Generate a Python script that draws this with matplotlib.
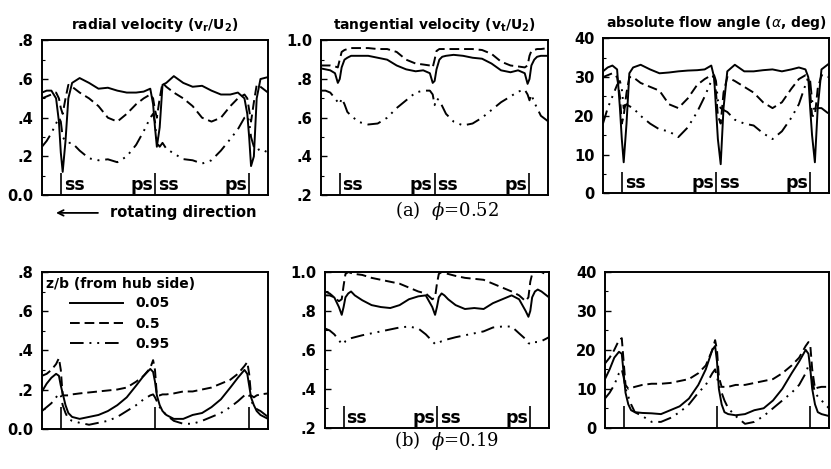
import matplotlib.pyplot as plt

# pitch-wise position in blade pitches (shared by all curves)
pitch = [0.0, 0.05, 0.1, 0.15, 0.18, 0.2, 0.22, 0.25, 0.28, 0.32,
         0.4, 0.5, 0.6, 0.7, 0.8, 0.9, 1.0, 1.08, 1.15, 1.18,
         1.2, 1.22, 1.25, 1.28, 1.32, 1.4, 1.5, 1.6, 1.7, 1.8,
         1.9, 2.0, 2.08, 2.15, 2.18, 2.2, 2.22, 2.25, 2.28, 2.32, 2.4]
blades = [0.2, 1.2, 2.2]
zb_labels = ['0.05', '0.5', '0.95']

# (a) phi = 0.52
rad_a_005 = [0.53, 0.54, 0.54, 0.50, 0.38, 0.22, 0.12, 0.28, 0.50, 0.58,
             0.605, 0.58, 0.55, 0.555, 0.54, 0.53, 0.53, 0.535, 0.55, 0.47,
             0.35, 0.25, 0.35, 0.57, 0.58, 0.615, 0.58, 0.56, 0.565, 0.54,
             0.52, 0.52, 0.53, 0.50, 0.42, 0.30, 0.15, 0.20, 0.50, 0.60, 0.61]
rad_a_05 = [0.50, 0.51, 0.52, 0.53, 0.50, 0.45, 0.42, 0.50, 0.57, 0.56,
            0.53, 0.50, 0.46, 0.40, 0.38, 0.42, 0.47, 0.50, 0.52, 0.50,
            0.44, 0.40, 0.50, 0.58, 0.56, 0.53, 0.50, 0.46, 0.40, 0.38,
            0.40, 0.46, 0.50, 0.52, 0.50, 0.44, 0.38, 0.48, 0.57, 0.56, 0.53]
rad_a_095 = [0.25, 0.28, 0.32, 0.37, 0.40, 0.38, 0.30, 0.28, 0.27, 0.27,
             0.23, 0.19, 0.18, 0.185, 0.17, 0.20, 0.26, 0.33, 0.40, 0.42,
             0.38, 0.27, 0.25, 0.27, 0.24, 0.215, 0.186, 0.18, 0.163, 0.18,
             0.23, 0.29, 0.34, 0.40, 0.41, 0.38, 0.30, 0.25, 0.23, 0.24, 0.22]

tan_a_005 = [0.855, 0.85, 0.845, 0.83, 0.78, 0.80, 0.86, 0.90, 0.91, 0.92,
             0.92, 0.92, 0.91, 0.90, 0.87, 0.85, 0.84, 0.845, 0.83, 0.78,
             0.79, 0.85, 0.90, 0.915, 0.92, 0.925, 0.92, 0.91, 0.905, 0.88,
             0.845, 0.835, 0.845, 0.83, 0.775, 0.80, 0.87, 0.90, 0.915, 0.92, 0.92]
tan_a_05 = [0.87, 0.87, 0.87, 0.865, 0.86, 0.90, 0.94, 0.95, 0.955, 0.96,
            0.96, 0.96, 0.955, 0.955, 0.94, 0.90, 0.88, 0.875, 0.87, 0.86,
            0.90, 0.945, 0.955, 0.955, 0.955, 0.955, 0.955, 0.955, 0.95, 0.93,
            0.89, 0.87, 0.865, 0.86, 0.87, 0.92, 0.945, 0.95, 0.955, 0.955, 0.96]
tan_a_095 = [0.74, 0.74, 0.73, 0.70, 0.68, 0.67, 0.70, 0.67, 0.63, 0.61,
             0.578, 0.565, 0.57, 0.60, 0.65, 0.69, 0.73, 0.74, 0.74, 0.72,
             0.665, 0.70, 0.69, 0.66, 0.62, 0.58, 0.56, 0.57, 0.60, 0.64,
             0.68, 0.71, 0.735, 0.745, 0.72, 0.69, 0.72, 0.68, 0.65, 0.61, 0.58]

ang_a_005 = [31.5, 32.5, 33, 32, 22, 14, 8, 18, 31, 32.5,
             33.2, 32, 31, 31.2, 31.5, 31.7, 31.8, 32, 33, 30,
             22, 14, 7.5, 22, 31.5, 33.2, 31.5, 31.5, 31.8, 32,
             31.5, 32, 32.5, 32, 30, 22, 15, 8, 22, 32, 33.5]
ang_a_05 = [30, 30.5, 31, 30, 25, 18, 20, 26, 30, 30,
            28.5, 27.5, 26.5, 23, 22, 24.5, 28, 29.5, 30.5, 30,
            26, 20, 18, 26, 30, 29, 27.5, 26, 23.5, 22,
            23.5, 27, 29.5, 30.5, 30, 26, 20, 20, 27, 30.5, 30]
ang_a_095 = [18, 22, 25, 28, 29, 27, 22, 23, 22.5, 22,
             20, 18, 16.5, 16, 14.5, 17, 21, 25, 29, 30.5,
             29, 24, 22, 21.5, 21, 19, 18, 17.5, 15.5, 14,
             16, 19.5, 23, 28, 30, 29, 24, 21, 22, 22, 20.5]

# (b) phi = 0.19
rad_b_005 = [0.19, 0.23, 0.26, 0.28, 0.27, 0.22, 0.18, 0.12, 0.08, 0.06,
             0.05, 0.06, 0.07, 0.09, 0.12, 0.16, 0.22, 0.27, 0.305, 0.29,
             0.24, 0.17, 0.12, 0.09, 0.07, 0.05, 0.05, 0.07, 0.08, 0.11,
             0.15, 0.21, 0.26, 0.30, 0.28, 0.22, 0.16, 0.12, 0.09, 0.07, 0.05]
rad_b_05 = [0.27, 0.28, 0.30, 0.33, 0.36, 0.30, 0.17, 0.17, 0.17, 0.175,
            0.18, 0.185, 0.19, 0.195, 0.20, 0.21, 0.24, 0.27, 0.31, 0.35,
            0.30, 0.17, 0.17, 0.175, 0.175, 0.18, 0.19, 0.19, 0.20, 0.21,
            0.23, 0.25, 0.28, 0.32, 0.34, 0.28, 0.17, 0.16, 0.17, 0.175, 0.18]
rad_b_095 = [0.09, 0.11, 0.13, 0.16, 0.18, 0.17, 0.12, 0.08, 0.05, 0.04,
             0.03, 0.02, 0.03, 0.04, 0.06, 0.09, 0.12, 0.15, 0.17, 0.175,
             0.16, 0.14, 0.11, 0.09, 0.07, 0.04, 0.025, 0.025, 0.04, 0.06,
             0.08, 0.11, 0.14, 0.17, 0.18, 0.17, 0.14, 0.12, 0.10, 0.09, 0.06]

tan_b_005 = [0.88, 0.88, 0.87, 0.82, 0.78, 0.82, 0.87, 0.89, 0.90, 0.88,
             0.855, 0.83, 0.82, 0.815, 0.83, 0.86, 0.875, 0.88, 0.82, 0.78,
             0.82, 0.87, 0.89, 0.88, 0.86, 0.83, 0.81, 0.815, 0.81, 0.84,
             0.86, 0.88, 0.86, 0.80, 0.77, 0.80, 0.87, 0.90, 0.91, 0.90, 0.87]
tan_b_05 = [0.90, 0.89, 0.87, 0.85, 0.86, 0.93, 0.99, 1.0, 0.995, 0.99,
            0.985, 0.97, 0.96, 0.95, 0.94, 0.92, 0.90, 0.89, 0.86, 0.87,
            0.94, 0.99, 1.0, 0.995, 0.99, 0.98, 0.97, 0.965, 0.96, 0.94,
            0.92, 0.90, 0.88, 0.85, 0.87, 0.95, 0.99, 1.0, 1.0, 1.0, 0.98]
tan_b_095 = [0.71, 0.70, 0.68, 0.65, 0.63, 0.63, 0.645, 0.655, 0.66, 0.665,
             0.675, 0.685, 0.695, 0.705, 0.715, 0.72, 0.71, 0.68, 0.645, 0.63,
             0.63, 0.635, 0.645, 0.65, 0.655, 0.665, 0.675, 0.685, 0.695, 0.715,
             0.72, 0.72, 0.685, 0.655, 0.635, 0.63, 0.63, 0.64, 0.64, 0.645, 0.665]

ang_b_005 = [12.5, 15, 18, 19.5, 19, 14, 9, 6, 4.5, 4,
             3.8, 3.7, 3.5, 4.5, 5.5, 7.5, 11, 15, 20, 21,
             17, 10, 6, 4, 3.5, 3.2, 3.5, 4.5, 5, 7,
             10, 14, 17, 20, 19, 15, 10, 6, 4, 3.5, 3]
ang_b_05 = [16.5, 18, 20, 22.5, 23, 17, 11, 10, 10.2, 10.5,
            11, 11.3, 11.3, 11.5, 12, 12.5, 14, 16, 20, 22.5,
            20, 13, 10.5, 10.5, 10.5, 11, 11, 11.5, 12, 12.5,
            14, 16, 18, 21, 22, 21, 15, 10, 10.3, 10.5, 10.5]
ang_b_095 = [7.5, 9, 11, 14, 15, 13, 10, 8, 6, 4,
             3, 1.5, 1.5, 2.5, 4, 6, 9, 11, 14, 15,
             13, 11, 9, 7, 5, 3, 1, 1.5, 3, 5,
             7, 9, 11, 14, 16, 15, 12, 9, 8, 7, 5]

styles = ['-', (0, (5, 2.5)), (0, (7, 3, 1, 3, 1, 3))]


def draw_panel(ax, curves, ylim, ticks, ticklabels, title=None, side_labels=True):
    for y, ls, lab in zip(curves, styles, zb_labels):
        ax.plot(pitch, y, color='black', lw=1.4, linestyle=ls, label=lab)
    lo, hi = ylim
    span = hi - lo
    ax.set_xlim(0, 2.4)
    ax.set_ylim(lo, hi)
    # blade positions
    ax.vlines(blades, lo, lo + 0.14 * span, color='black', lw=1.2)
    if side_labels:
        kw = dict(fontsize=12.5, fontweight='bold', va='bottom')
        ax.text(blades[0] + 0.03, lo + 0.005 * span, 'ss', ha='left', **kw)
        ax.text(blades[1] - 0.02, lo + 0.005 * span, 'ps', ha='right', **kw)
        ax.text(blades[1] + 0.03, lo + 0.005 * span, 'ss', ha='left', **kw)
        ax.text(blades[2] - 0.02, lo + 0.005 * span, 'ps', ha='right', **kw)
    ax.set_xticks([])
    ax.set_yticks(ticks)
    ax.set_yticklabels(ticklabels, fontweight='bold', fontsize=10.5)
    ax.set_yticks([(a + b) / 2 for a, b in zip(ticks[:-1], ticks[1:])], minor=True)
    ax.tick_params(axis='y', which='major', direction='in', length=4, width=1, pad=6)
    ax.tick_params(axis='y', which='minor', direction='in', length=2, width=0.8)
    for sp in ax.spines.values():
        sp.set_linewidth(1.4)
    if title:
        ax.set_title(title, fontsize=10, fontweight='bold', pad=8)


fig = plt.figure(figsize=(8.31, 4.69), dpi=100)

rad_ticks = [0.0, 0.2, 0.4, 0.6, 0.8]
rad_labels = ['0.0', '.2', '.4', '.6', '.8']
tan_ticks = [0.2, 0.4, 0.6, 0.8, 1.0]
tan_labels = ['.2', '.4', '.6', '.8', '1.0']
ang_ticks = [0, 10, 20, 30, 40]
ang_labels = ['0', '10', '20', '30', '40']

ax1 = fig.add_axes([0.0505, 0.584, 0.272, 0.330])
ax2 = fig.add_axes([0.386, 0.584, 0.274, 0.330])
ax3 = fig.add_axes([0.7256, 0.588, 0.272, 0.330])
ax4 = fig.add_axes([0.0505, 0.086, 0.272, 0.334])
ax5 = fig.add_axes([0.391, 0.088, 0.2696, 0.332])
ax6 = fig.add_axes([0.728, 0.088, 0.2696, 0.332])

draw_panel(ax1, [rad_a_005, rad_a_05, rad_a_095], (0, 0.8), rad_ticks, rad_labels,
           r'radial velocity (v$_\mathregular{r}$/U$_\mathregular{2}$)')
draw_panel(ax2, [tan_a_005, tan_a_05, tan_a_095], (0.2, 1.0), tan_ticks, tan_labels,
           r'tangential velocity (v$_\mathregular{t}$/U$_\mathregular{2}$)')
draw_panel(ax3, [ang_a_005, ang_a_05, ang_a_095], (0, 40), ang_ticks, ang_labels,
           r'absolute flow angle ($\alpha$, deg)')
draw_panel(ax4, [rad_b_005, rad_b_05, rad_b_095], (0, 0.8), rad_ticks, rad_labels,
           side_labels=False)
draw_panel(ax5, [tan_b_005, tan_b_05, tan_b_095], (0.2, 1.0), tan_ticks, tan_labels)
draw_panel(ax6, [ang_b_005, ang_b_05, ang_b_095], (0, 40), ang_ticks, ang_labels,
           side_labels=False)

# legend for spanwise positions
ax4.text(0.02, 0.97, 'z/b (from hub side)', transform=ax4.transAxes,
         fontsize=10, fontweight='bold', va='top', ha='left')
ax4.legend(loc='upper left', bbox_to_anchor=(0.1, 0.88), frameon=False,
           handlelength=3.8, handletextpad=0.9, labelspacing=0.45,
           borderaxespad=0, prop={'weight': 'bold', 'size': 10})

# rotating direction arrow
ax1.annotate('', xy=(0.05, -0.115), xytext=(0.26, -0.115), xycoords='axes fraction',
             arrowprops=dict(arrowstyle='->', color='black', lw=1.3))
ax1.text(0.3, -0.115, 'rotating direction', transform=ax1.transAxes,
         fontsize=10.5, fontweight='bold', va='center', ha='left')

fig.text(0.538, 0.552, r'(a)  $\phi$=0.52', ha='center', va='center',
         fontsize=13, family='DejaVu Serif', math_fontfamily='dejavuserif')
fig.text(0.538, 0.06, r'(b)  $\phi$=0.19', ha='center', va='center',
         fontsize=13, family='DejaVu Serif', math_fontfamily='dejavuserif')

fig.savefig('out.png', dpi=100)
